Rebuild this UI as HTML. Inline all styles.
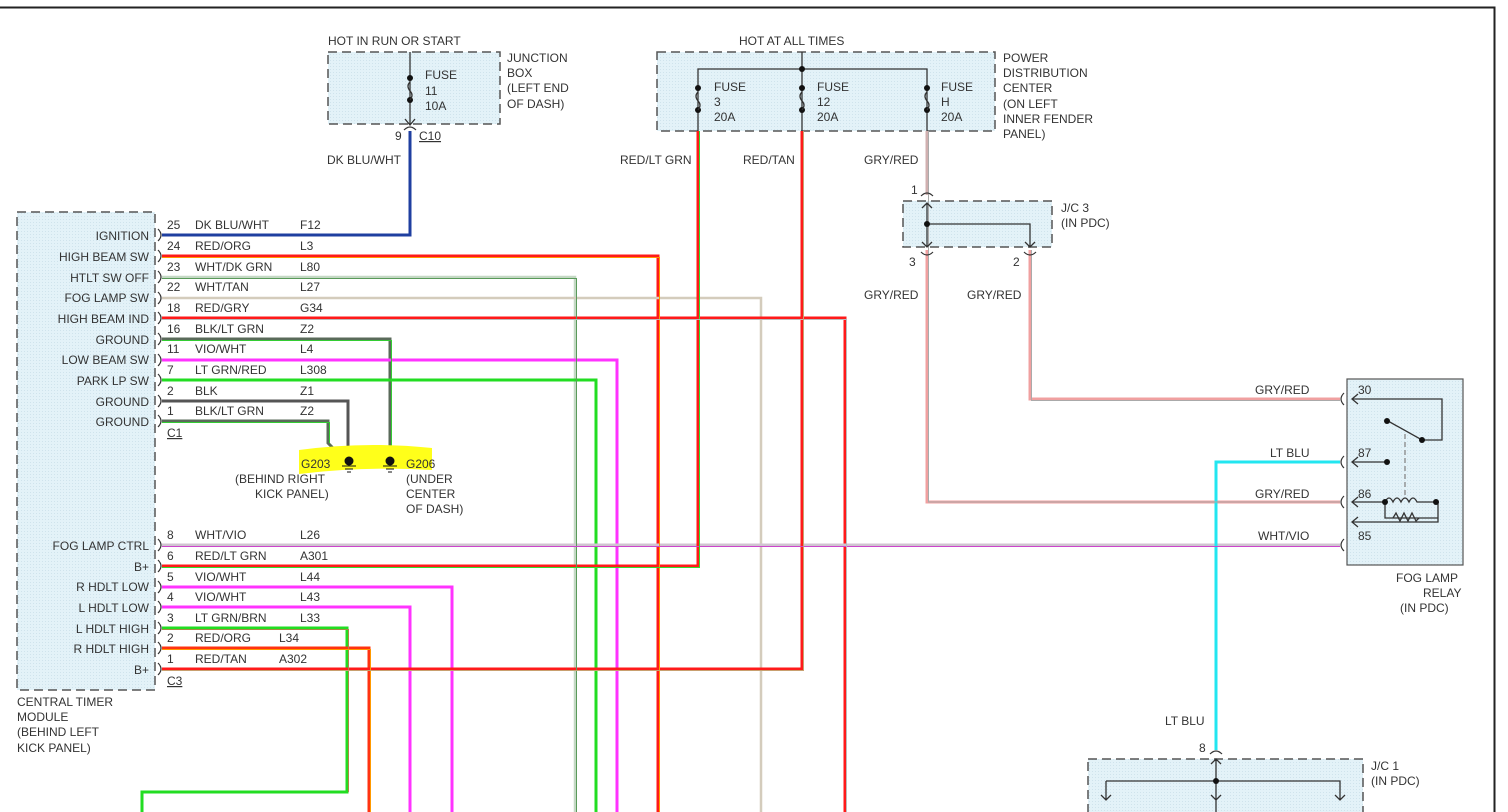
<!DOCTYPE html>
<html><head><meta charset="utf-8"><style>
html,body{margin:0;padding:0;background:#fff;}
svg{display:block;}
text{font-family:"Liberation Sans",Arial,sans-serif;font-size:12px;fill:#333;}
</style></head><body>
<svg width="1508" height="812" viewBox="0 0 1508 812" xmlns="http://www.w3.org/2000/svg">
<defs>
<pattern id="dots" width="3" height="3" patternUnits="userSpaceOnUse"><rect width="3" height="3" fill="#e3f2f8"/><rect width="1" height="1" fill="#cfe3ec"/></pattern>
</defs>
<path d="M0 7.5H1494.5V812" fill="none" stroke="#222" stroke-width="2"/>

<g stroke="#555" stroke-width="1.5" stroke-dasharray="9,5" fill="url(#dots)">
<rect x="328" y="52" width="172" height="72"/>
<rect x="657" y="52" width="338" height="79"/>
<rect x="903" y="201" width="149" height="46"/>
<rect x="17" y="212" width="138" height="478"/>
<rect x="1088" y="759" width="275" height="60"/>
</g>
<rect x="1347" y="379" width="116" height="186" fill="url(#dots)" stroke="#555" stroke-width="1.2"/>

<g fill="none" stroke-width="3" stroke-linejoin="miter">
<path d="M162 235H410V131" stroke="#1f3fa0"/>
<path d="M162 256H658V812" stroke="#ff1a1a"/>
<path d="M162 277H575V812" stroke="#c4d8c4" stroke-width="2.5"/>
<path d="M162 298H761V812" stroke="#d4ccbc" stroke-width="2.5"/>
<path d="M162 318H845V812" stroke="#ff1a1a"/>
<path d="M162 339H390V452" stroke="#5a6a5a"/>
<path d="M162 360H617V812" stroke="#ff33ff"/>
<path d="M162 380H596V812" stroke="#22dd22"/>
<path d="M162 401H348V455" stroke="#555"/>
<path d="M162 421H328V443L343 458" stroke="#5a6a5a"/>
<path d="M162 545H1340" stroke="#d0c4d0"/>
<path d="M162 566H698V131" stroke="#ff1a1a"/>
<path d="M162 587H452V812" stroke="#ff33ff"/>
<path d="M162 607H410V812" stroke="#ff33ff"/>
<path d="M162 628H347V792H142V812" stroke="#22dd22"/>
<path d="M162 648H369V812" stroke="#ff3311"/>
<path d="M162 669H802V131" stroke="#ff1a1a"/>
<path d="M927 131V195" stroke="#d0b0b0"/>
<path d="M927 250V502H1340" stroke="#f0a0a0"/>
<path d="M1030 250V399H1340" stroke="#f0a0a0"/>
<path d="M1340 462H1216V750" stroke="#22e6f0"/>
</g>
<g fill="none" stroke-width="1">
<path d="M162 257.5H659.5V812" stroke="#ff9900"/>
<path d="M162 278.5H576.5V812" stroke="#5a9a5a"/>
<path d="M162 340.5H391.5V452" stroke="#33cc33"/>
<path d="M162 422.5H329.5V443" stroke="#33cc33"/>
<path d="M162 546.5H1340" stroke="#cc44cc"/>
<path d="M162 567.5H699.5V131" stroke="#33dd33"/>
<path d="M162 629.5H348.5V792" stroke="#aa8844"/>
<path d="M162 649.5H370.5V812" stroke="#ff9900"/>
<path d="M162 319.5H846.5V812" stroke="#bbbbbb"/>
<path d="M162 670.5H803.5V131" stroke="#c8a070"/>
<path d="M928.5 131V502H1340" stroke="#aaa"/>
<path d="M1031.5 250V400.5H1340" stroke="#aaa"/>
</g>

<g fill="none" stroke="#333" stroke-width="1.2">
<path d="M158 229q6 6 0 12M158 250q6 6 0 12M158 271q6 6 0 12M158 292q6 6 0 12M158 312q6 6 0 12M158 333q6 6 0 12M158 354q6 6 0 12M158 374q6 6 0 12M158 395q6 6 0 12M158 415q6 6 0 12"/>
<path d="M158 539q6 6 0 12M158 560q6 6 0 12M158 581q6 6 0 12M158 601q6 6 0 12M158 622q6 6 0 12M158 642q6 6 0 12M158 663q6 6 0 12"/>
<path d="M1344 393q-6 6 0 12M1344 456q-6 6 0 12M1344 496q-6 6 0 12M1344 539q-6 6 0 12"/>
<path d="M404 130q6 -6 12 0"/>
<path d="M921 196q6 -6 12 0M921 252q6 6 12 0M1024 252q6 6 12 0"/>
<path d="M1210 754q6 -6 12 0"/>
</g>

<g fill="none" stroke="#333" stroke-width="1.3">
<path d="M410 52V124M405 119L410 125L415 119"/>
<path d="M802 52V131M698 131V69H927V131"/>
<path d="M927 203V247M922 208L927 203L932 208M922 242L927 247L932 242M927 224H1030V247M1025 242L1030 247L1035 242"/>
<path d="M1216 759V812M1211 764L1216 759L1221 764M1106 781H1340V800M1106 781V800M1101 795L1106 800L1111 795M1335 795L1340 800L1345 795M1211 795L1216 800L1221 795"/>
<path d="M1353 399H1442V440H1422L1388 421M1353 462H1387M1353 502H1385M1438 502V522H1353M1385 502V518H1438V502"/>
<path d="M1358 394L1352 399L1358 404M1358 457L1352 462L1358 467M1358 497L1352 502L1358 507M1358 517L1352 522L1358 527"/>
<path d="M1385 502q4 -8 8 0q4 -8 8 0q4 -8 8 0q4 -8 8 0H1438M1393 518l3 -5l4 8l4 -8l4 8l4 -8l4 8l3 -3"/>
<path d="M1405 434V495" stroke-dasharray="5,3" stroke="#888"/>
</g>
<g fill="#111">
<circle cx="410" cy="78" r="3"/><circle cx="410" cy="100" r="3"/>
<circle cx="698" cy="88" r="3"/><circle cx="698" cy="110" r="3"/>
<circle cx="802" cy="69" r="3"/><circle cx="802" cy="88" r="3"/><circle cx="802" cy="110" r="3"/>
<circle cx="927" cy="88" r="3"/><circle cx="927" cy="110" r="3"/>
<circle cx="927" cy="224" r="3"/>
<circle cx="1216" cy="781" r="3"/>
<circle cx="1387" cy="421" r="3"/><circle cx="1422" cy="440" r="3"/><circle cx="1387" cy="462" r="3"/>
<circle cx="1385" cy="502" r="3"/><circle cx="1436" cy="502" r="3"/>
</g>
<g fill="none" stroke="#333" stroke-width="1.3">
<path d="M410 82q-4 4 0 9q4 4 0 9"/>
<path d="M698 92q-4 4 0 9q4 4 0 9"/>
<path d="M802 92q-4 4 0 9q4 4 0 9"/>
<path d="M927 92q-4 4 0 9q4 4 0 9"/>
</g>

<path d="M299 450Q365 441 432 448V470Q365 466 299 474Z" fill="#ffff1a"/>
<g fill="#111" stroke="#111" stroke-width="1">
<circle cx="349" cy="461" r="4"/><path d="M342 466H356M345 469H353M347 472H351"/>
<circle cx="390" cy="461" r="4"/><path d="M383 466H397M386 469H394M388 472H392"/>
</g>

<text x="328" y="45">HOT IN RUN OR START</text>
<text x="425" y="79">FUSE</text><text x="425" y="95">11</text><text x="425" y="110">10A</text>
<text x="507" y="62">JUNCTION</text><text x="507" y="77">BOX</text><text x="507" y="92">(LEFT END</text><text x="507" y="108">OF DASH)</text>
<text x="395" y="140">9</text><text x="419" y="140" text-decoration="underline">C10</text>
<text x="327" y="164">DK BLU/WHT</text>
<text x="739" y="45">HOT AT ALL TIMES</text>
<text x="714" y="91">FUSE</text><text x="714" y="106">3</text><text x="714" y="121">20A</text>
<text x="817" y="91">FUSE</text><text x="817" y="106">12</text><text x="817" y="121">20A</text>
<text x="941" y="91">FUSE</text><text x="941" y="106">H</text><text x="941" y="121">20A</text>
<text x="1003" y="62">POWER</text><text x="1003" y="77">DISTRIBUTION</text><text x="1003" y="92">CENTER</text><text x="1003" y="108">(ON LEFT</text><text x="1003" y="123">INNER FENDER</text><text x="1003" y="138">PANEL)</text>
<text x="620" y="164">RED/LT GRN</text><text x="743" y="164">RED/TAN</text><text x="864" y="164">GRY/RED</text>
<text x="911" y="194">1</text>
<text x="1061" y="212">J/C 3</text><text x="1061" y="227">(IN PDC)</text>
<text x="909" y="266">3</text><text x="1013" y="266">2</text>
<text x="864" y="299">GRY/RED</text><text x="967" y="299">GRY/RED</text>
<text x="1255" y="394">GRY/RED</text><text x="1270" y="457">LT BLU</text><text x="1255" y="498">GRY/RED</text><text x="1258" y="540">WHT/VIO</text>
<text x="1358" y="394">30</text><text x="1358" y="457">87</text><text x="1358" y="498">86</text><text x="1358" y="540">85</text>
<text x="1396" y="582">FOG LAMP</text><text x="1423" y="597">RELAY</text><text x="1400" y="612">(IN PDC)</text>
<text x="1165" y="725">LT BLU</text><text x="1199" y="752">8</text>
<text x="1371" y="770">J/C 1</text><text x="1371" y="785">(IN PDC)</text>

<g text-anchor="end">
<text x="149" y="240">IGNITION</text><text x="149" y="261">HIGH BEAM SW</text><text x="149" y="282">HTLT SW OFF</text><text x="149" y="302">FOG LAMP SW</text><text x="149" y="323">HIGH BEAM IND</text><text x="149" y="344">GROUND</text><text x="149" y="364">LOW BEAM SW</text><text x="149" y="385">PARK LP SW</text><text x="149" y="406">GROUND</text><text x="149" y="426">GROUND</text>
<text x="149" y="550">FOG LAMP CTRL</text><text x="149" y="571">B+</text><text x="149" y="591">R HDLT LOW</text><text x="149" y="612">L HDLT LOW</text><text x="149" y="633">L HDLT HIGH</text><text x="149" y="653">R HDLT HIGH</text><text x="149" y="674">B+</text>
</g>
<g>
<text x="167" y="229">25</text><text x="195" y="229">DK BLU/WHT</text><text x="300" y="229">F12</text>
<text x="167" y="250">24</text><text x="195" y="250">RED/ORG</text><text x="300" y="250">L3</text>
<text x="167" y="271">23</text><text x="195" y="271">WHT/DK GRN</text><text x="300" y="271">L80</text>
<text x="167" y="291">22</text><text x="195" y="291">WHT/TAN</text><text x="300" y="291">L27</text>
<text x="167" y="312">18</text><text x="195" y="312">RED/GRY</text><text x="300" y="312">G34</text>
<text x="167" y="333">16</text><text x="195" y="333">BLK/LT GRN</text><text x="300" y="333">Z2</text>
<text x="167" y="353">11</text><text x="195" y="353">VIO/WHT</text><text x="300" y="353">L4</text>
<text x="167" y="374">7</text><text x="195" y="374">LT GRN/RED</text><text x="300" y="374">L308</text>
<text x="167" y="395">2</text><text x="195" y="395">BLK</text><text x="300" y="395">Z1</text>
<text x="167" y="415">1</text><text x="195" y="415">BLK/LT GRN</text><text x="300" y="415">Z2</text>
<text x="167" y="437" text-decoration="underline">C1</text>
<text x="167" y="539">8</text><text x="195" y="539">WHT/VIO</text><text x="300" y="539">L26</text>
<text x="167" y="560">6</text><text x="195" y="560">RED/LT GRN</text><text x="300" y="560">A301</text>
<text x="167" y="581">5</text><text x="195" y="581">VIO/WHT</text><text x="300" y="581">L44</text>
<text x="167" y="601">4</text><text x="195" y="601">VIO/WHT</text><text x="300" y="601">L43</text>
<text x="167" y="622">3</text><text x="195" y="622">LT GRN/BRN</text><text x="300" y="622">L33</text>
<text x="167" y="642">2</text><text x="195" y="642">RED/ORG</text><text x="279" y="642">L34</text>
<text x="167" y="663">1</text><text x="195" y="663">RED/TAN</text><text x="279" y="663">A302</text>
<text x="167" y="685" text-decoration="underline">C3</text>
</g>
<text x="301" y="468">G203</text><text x="406" y="468">G206</text>
<text x="235" y="483">(BEHIND RIGHT</text><text x="255" y="498">KICK PANEL)</text>
<text x="406" y="483">(UNDER</text><text x="406" y="498">CENTER</text><text x="406" y="513">OF DASH)</text>
<text x="17" y="706">CENTRAL TIMER</text><text x="17" y="721">MODULE</text><text x="17" y="736">(BEHIND LEFT</text><text x="17" y="752">KICK PANEL)</text>
</svg>
</body></html>
